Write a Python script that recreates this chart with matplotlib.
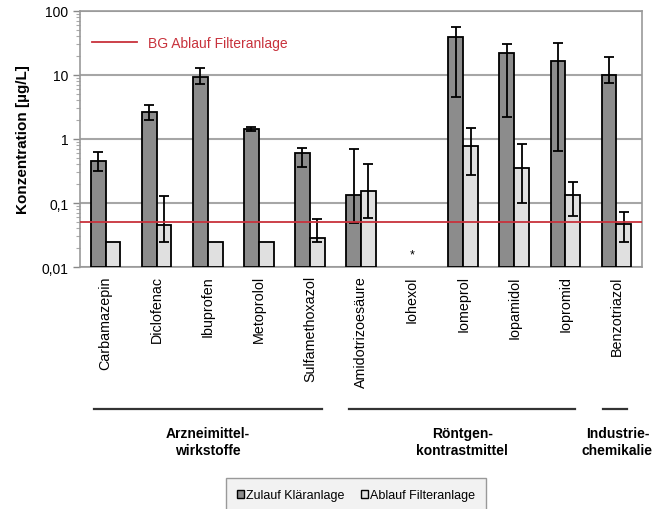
import numpy as np
import matplotlib.pyplot as plt
from matplotlib.lines import Line2D
from matplotlib.patches import Patch

plt.rcParams['font.family'] = ['Liberation Sans', 'DejaVu Sans']

stoffe = ['Carbamazepin', 'Diclofenac', 'Ibuprofen', 'Metoprolol', 'Sulfamethoxazol',
          'Amidotrizoesäure', 'Iohexol', 'Iomeprol', 'Iopamidol', 'Iopromid', 'Benzotriazol']

# Zulauf Klaeranlage (nan = kein Wert)
zulauf = [0.45, 2.6, 9.3, 1.45, 0.60, 0.135, np.nan, 39.7, 21.8, 16.4, 9.9]
zulauf_hi = [0.63, 3.4, 13.0, 1.52, 0.72, 0.69, np.nan, 57.0, 31.0, 32.0, 18.9]
zulauf_lo = [0.32, 2.0, 7.3, 1.32, 0.36, 0.048, np.nan, 4.6, 2.18, 0.65, 7.4]

# Ablauf Filteranlage
ablauf = [0.025, 0.046, 0.025, 0.025, 0.0284, 0.154, np.nan, 0.78, 0.348, 0.133, 0.0476]
ablauf_hi = [np.nan, 0.129, np.nan, np.nan, 0.057, 0.41, np.nan, 1.49, 0.835, 0.215, 0.0723]
ablauf_lo = [np.nan, 0.025, np.nan, np.nan, 0.025, 0.059, np.nan, 0.277, 0.10, 0.062, 0.0246]

bg = 0.05
iohexol_stern = 0.016

gruppen = ['Arzneimittel-\nwirkstoffe', 'Röntgen-\nkontrastmittel', 'Industrie-\nchemikalie']
gruppen_von = [-0.23, 4.76, 9.73]
gruppen_bis = [4.24, 9.19, 10.2]
gruppen_mitte = [2.0, 6.98, 10.02]

dunkel = '#8c8c8c'
hell = '#e0e0e0'
rot = '#c8323c'

fig = plt.figure(figsize=(6.65, 5.10), dpi=100)
ax = fig.add_axes([0.1203, 0.4745, 0.8451, 0.502])

x = np.arange(len(stoffe))
w = 0.29
boden = 0.01

z = np.array(zulauf)
a = np.array(ablauf)
ax.bar(x - w/2, z - boden, w, bottom=boden, color=dunkel, edgecolor='black', lw=1.3, zorder=3)
ax.bar(x + w/2, a - boden, w, bottom=boden, color=hell, edgecolor='black', lw=1.3, zorder=3)

zerr = [z - np.array(zulauf_lo), np.array(zulauf_hi) - z]
aerr = [a - np.array(ablauf_lo), np.array(ablauf_hi) - a]
ax.errorbar(x - w/2, z, yerr=zerr, fmt='none', ecolor='black', elinewidth=1.3, capsize=3.5, capthick=1.3, zorder=4)
ax.errorbar(x + w/2, a, yerr=aerr, fmt='none', ecolor='black', elinewidth=1.3, capsize=3.5, capthick=1.3, zorder=4)

ax.axhline(bg, color=rot, lw=1.3, zorder=5)
ax.text(6, iohexol_stern, '*', ha='center', va='center', fontsize=9)

ax.set_yscale('log')
ax.set_ylim(0.01, 100)
ax.set_xlim(-0.5, len(stoffe) - 0.5)
ax.set_yticks([0.01, 0.1, 1, 10, 100])
ax.set_yticklabels(['0,01', '0,1', '1', '10', '100'], fontsize=10)
ax.tick_params(axis='y', which='major', length=5, color='#888888', width=1)
ax.tick_params(axis='y', which='minor', length=3, color='#aaaaaa', width=0.8)
ax.set_xticks(x)
ax.set_xticklabels(stoffe, rotation=90, fontsize=10.3)
ax.tick_params(axis='x', length=0, pad=6)
ax.grid(axis='y', which='major', color='#a6a6a6', lw=1.5, zorder=0)
for s in ax.spines.values():
    s.set_color('#999999')
    s.set_linewidth(1.2)
ax.set_ylabel('Konzentration [µg/L]', fontsize=11, fontweight='bold', labelpad=8)

leg1 = ax.legend(handles=[Line2D([], [], color=rot, lw=1.3)], labels=['BG Ablauf Filteranlage'],
                 loc='upper left', bbox_to_anchor=(0.0, 0.95), frameon=False, fontsize=10,
                 handlelength=3.2, labelcolor=rot)

tr = ax.get_xaxis_transform()
for g, v, b, m in zip(gruppen, gruppen_von, gruppen_bis, gruppen_mitte):
    ax.plot([v, b], [-0.553, -0.553], color='#333333', lw=1.6, transform=tr, clip_on=False)
    ax.text(m, -0.62, g, ha='center', va='top', fontsize=10, fontweight='bold',
            transform=tr, linespacing=1.3)

fig.legend(handles=[Patch(facecolor=dunkel, edgecolor='black'), Patch(facecolor=hell, edgecolor='black')],
           labels=['Zulauf Kläranlage', 'Ablauf Filteranlage'], loc='center', ncol=2,
           bbox_to_anchor=(0.535, 0.0275), fontsize=9, handlelength=0.6, handleheight=0.6,
           handletextpad=0.15, columnspacing=1.3, fancybox=False, edgecolor='#999999',
           facecolor='#f2f2f2', framealpha=1, borderpad=0.85)

fig.savefig('out.png', dpi=100)
